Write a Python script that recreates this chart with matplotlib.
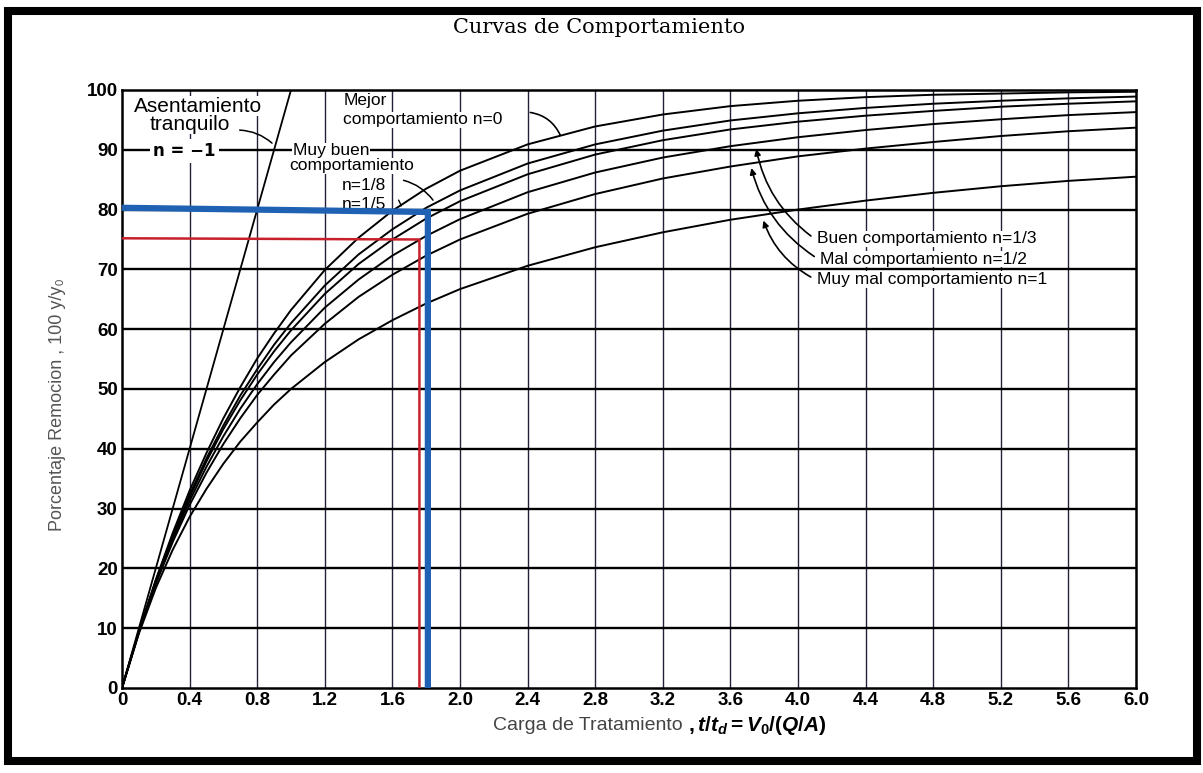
import matplotlib
matplotlib.use('Agg')
import matplotlib.pyplot as plt
from matplotlib.patches import Rectangle

plt.rcParams['font.family'] = ['Liberation Sans', 'DejaVu Sans']
plt.rcParams['mathtext.fontset'] = 'custom'
plt.rcParams['mathtext.it'] = 'Liberation Sans:italic:bold'
plt.rcParams['mathtext.rm'] = 'Liberation Sans:bold'
plt.rcParams['mathtext.bf'] = 'Liberation Sans:bold'

# valores (carga t/td vs % remocion)
carga = [0, 0.1, 0.2, 0.3, 0.4, 0.5, 0.6, 0.7, 0.8, 0.9, 1.0, 1.2, 1.4, 1.6, 1.8, 2.0,
         2.4, 2.8, 3.2, 3.6, 4.0, 4.4, 4.8, 5.2, 5.6, 6.0]
n_0 = [0, 9.5, 18.1, 25.9, 33.0, 39.3, 45.1, 50.3, 55.1, 59.3, 63.2, 69.9, 75.3, 79.8, 83.5, 86.5,
       90.9, 93.9, 95.9, 97.3, 98.2, 98.8, 99.2, 99.4, 99.6, 99.7]
n_1_8 = [0, 9.5, 17.9, 25.5, 32.3, 38.4, 43.9, 48.9, 53.3, 57.4, 61.0, 67.3, 72.5, 76.7, 80.3, 83.2,
         87.7, 90.9, 93.2, 94.9, 96.1, 97.0, 97.7, 98.2, 98.6, 98.9]
n_1_5 = [0, 9.4, 17.8, 25.3, 31.9, 37.9, 43.3, 48.1, 52.4, 56.3, 59.8, 65.9, 70.9, 75.0, 78.5, 81.4,
         85.9, 89.2, 91.6, 93.4, 94.7, 95.7, 96.5, 97.2, 97.7, 98.1]
n_1_3 = [0, 9.4, 17.6, 24.9, 31.3, 37.0, 42.1, 46.7, 50.8, 54.5, 57.8, 63.6, 68.3, 72.3, 75.6, 78.4,
         82.9, 86.2, 88.7, 90.6, 92.1, 93.3, 94.3, 95.1, 95.8, 96.3]
n_1_2 = [0, 9.3, 17.4, 24.4, 30.6, 36.0, 40.8, 45.1, 49.0, 52.4, 55.6, 60.9, 65.4, 69.1, 72.3, 75.0,
         79.3, 82.6, 85.2, 87.2, 88.9, 90.2, 91.3, 92.3, 93.1, 93.7]
n_1 = [0, 9.1, 16.7, 23.1, 28.6, 33.3, 37.5, 41.2, 44.4, 47.4, 50.0, 54.5, 58.3, 61.5, 64.3, 66.7,
       70.6, 73.7, 76.2, 78.3, 80.0, 81.5, 82.8, 83.9, 84.8, 85.5]
tranquilo_x = [0, 1.0]
tranquilo_y = [0, 100]

# lineas de lectura
azul_x = [0, 1.81, 1.81]
azul_y = [80.3, 79.6, 0]
rojo_x = [0, 1.76, 1.76]
rojo_y = [75.2, 75.0, 0]

x_ticks = [0, 0.4, 0.8, 1.2, 1.6, 2.0, 2.4, 2.8, 3.2, 3.6, 4.0, 4.4, 4.8, 5.2, 5.6, 6.0]
x_labels = ['0', '0.4', '0.8', '1.2', '1.6', '2.0', '2.4', '2.8', '3.2', '3.6',
            '4.0', '4.4', '4.8', '5.2', '5.6', '6.0']
y_ticks = [0, 10, 20, 30, 40, 50, 60, 70, 80, 90, 100]

fig = plt.figure(figsize=(12.03, 7.73), dpi=100)
ax = fig.add_axes([0.1014, 0.110, 0.8429, 0.7736])
ax.set_xlim(0, 6)
ax.set_ylim(0, 100)

for v in x_ticks[1:-1]:
    ax.axvline(v, color='#22223a', lw=1.0, zorder=1)
for h in y_ticks[1:-1]:
    ax.axhline(h, color='black', lw=1.7, zorder=1)

for serie in [n_0, n_1_8, n_1_5, n_1_3, n_1_2, n_1]:
    ax.plot(carga, serie, color='black', lw=1.4, zorder=3)
ax.plot(tranquilo_x, tranquilo_y, color='black', lw=1.3, zorder=3)

ax.plot(rojo_x, rojo_y, color='#c8202a', lw=1.8, zorder=4)
ax.plot(azul_x, azul_y, color='#1f62b3', lw=4.5, zorder=4, solid_joinstyle='miter')

for s in ax.spines.values():
    s.set_linewidth(1.8)
ax.set_xticks(x_ticks)
ax.set_xticklabels(x_labels)
ax.set_yticks(y_ticks)
ax.tick_params(length=0, labelsize=13.5, pad=3)
for lab in ax.get_xticklabels() + ax.get_yticklabels():
    lab.set_fontweight('bold')

fondo = dict(facecolor='white', edgecolor='none', pad=0.5)
fs = 12.5

# textos de las curvas
ax.text(0.45, 97.3, 'Asentamiento', fontsize=15, ha='center', va='center', bbox=fondo, zorder=5)
ax.text(0.40, 94.3, 'tranquilo', fontsize=15, ha='center', va='center', bbox=fondo, zorder=5)
ax.annotate('', xy=(0.90, 90.8), xytext=(0.68, 93.3),
            arrowprops=dict(arrowstyle='-', lw=1.1, connectionstyle='arc3,rad=-0.2'))
ax.text(0.37, 89.8, 'n = \u22121', fontsize=12, fontweight='bold', family='DejaVu Sans',
        ha='center', va='center', bbox=dict(facecolor='white', edgecolor='none', pad=2), zorder=5)

ax.text(1.31, 98.2, 'Mejor', fontsize=fs, ha='left', va='center', bbox=fondo, zorder=5)
ax.text(1.31, 95.0, 'comportamiento n=0', fontsize=fs, ha='left', va='center', bbox=fondo, zorder=5)
ax.annotate('', xy=(2.60, 92.0), xytext=(2.40, 96.3),
            arrowprops=dict(arrowstyle='-', lw=1.2, connectionstyle='arc3,rad=-0.3'))

ax.text(1.01, 89.8, 'Muy buen', fontsize=fs, ha='left', va='center', bbox=fondo, zorder=5)
ax.text(0.99, 87.3, 'comportamiento', fontsize=fs, ha='left', va='center', bbox=fondo, zorder=5)
ax.text(1.30, 84.0, 'n=1/8', fontsize=fs, ha='left', va='center', bbox=fondo, zorder=5)
ax.text(1.30, 80.8, 'n=1/5', fontsize=fs, ha='left', va='center', zorder=3.5)
ax.annotate('', xy=(1.85, 81.2), xytext=(1.65, 85.0),
            arrowprops=dict(arrowstyle='-', lw=1.1, connectionstyle='arc3,rad=-0.2'))
ax.annotate('', xy=(1.66, 80.2), xytext=(1.63, 82.0),
            arrowprops=dict(arrowstyle='-', lw=1.0))

ax.text(4.11, 75.1, 'Buen comportamiento n=1/3', fontsize=fs, ha='left', va='center', bbox=fondo, zorder=5)
ax.text(4.13, 71.7, 'Mal comportamiento n=1/2', fontsize=fs, ha='left', va='center', bbox=fondo, zorder=5)
ax.text(4.11, 68.3, 'Muy mal comportamiento n=1', fontsize=fs, ha='left', va='center', bbox=fondo, zorder=5)
flecha = dict(arrowstyle='-|>', lw=1.2, mutation_scale=9, color='black',
              connectionstyle='arc3,rad=-0.2')
ax.annotate('', xy=(3.75, 90.6), xytext=(4.09, 75.3), arrowprops=flecha)
ax.annotate('', xy=(3.72, 87.4), xytext=(4.11, 71.9), arrowprops=flecha)
ax.annotate('', xy=(3.79, 78.6), xytext=(4.09, 68.5), arrowprops=flecha)

# titulo y ejes
fig.text(0.498, 0.965, 'Curvas de Comportamiento', family='DejaVu Serif', fontsize=15,
         ha='center', va='center')
fig.text(0.048, 0.476, 'Porcentaje Remocion , 100 y/y\u2080', fontsize=13, color='#555555',
         rotation=90, ha='center', va='center')
fig.text(0.572, 0.062, 'Carga de Tratamiento ', fontsize=14, color='#444444',
         ha='right', va='center')
fig.text(0.572, 0.062, r'$,t/t_d = V_0/(Q/A)$', fontsize=15, color='black',
         ha='left', va='center')

# marco negro
fig.patches.append(Rectangle((0.0066, 0.0155), 0.988, 0.9703, transform=fig.transFigure,
                             fill=False, edgecolor='black', lw=5.8))

fig.savefig('out.png', dpi=100)
